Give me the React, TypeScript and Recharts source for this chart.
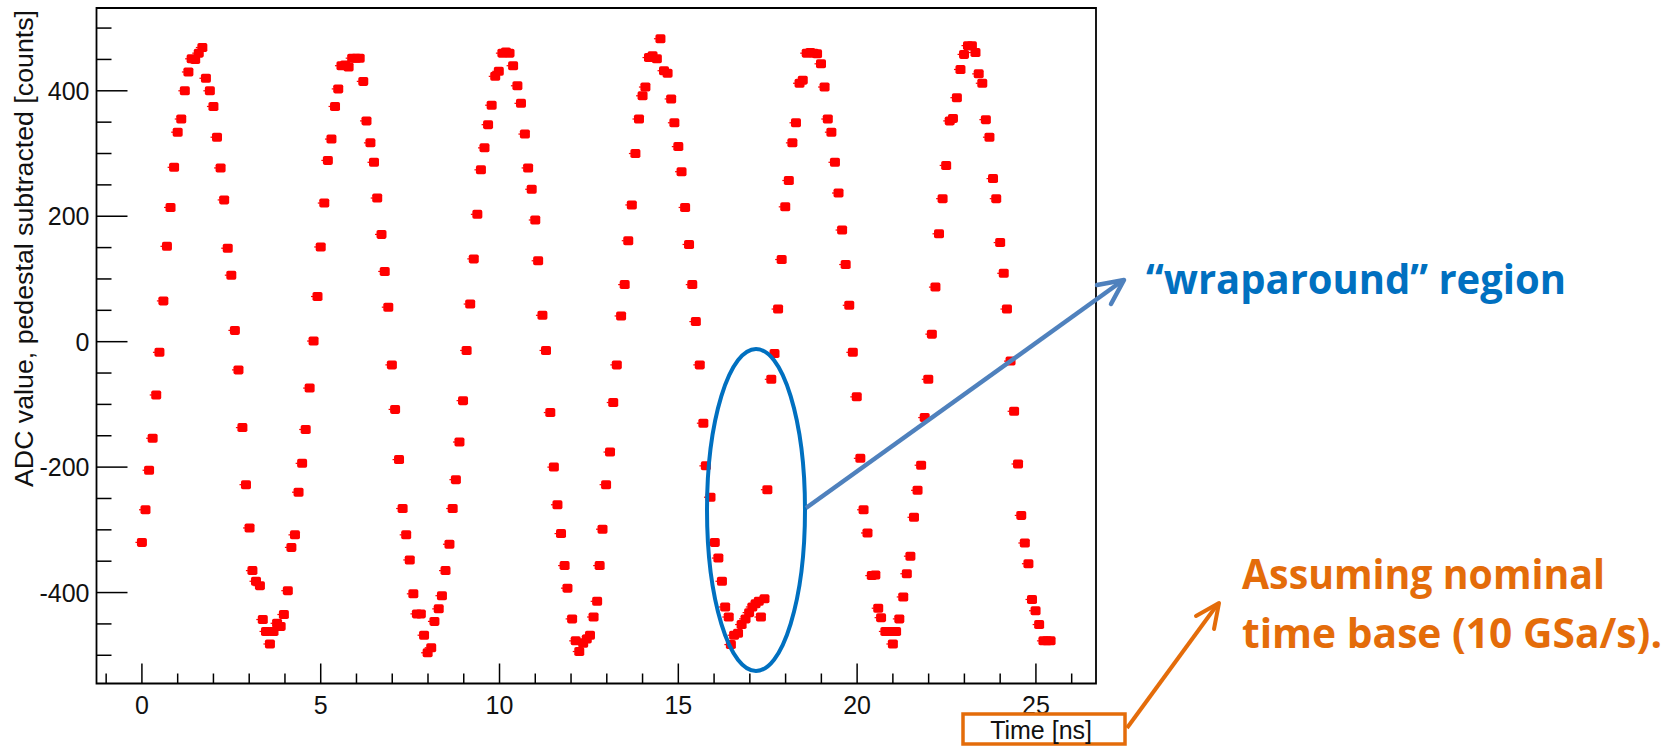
import { ReferenceArea, Scatter, ScatterChart, XAxis, YAxis } from 'recharts';

const timeNs = [
  0.0, 0.1, 0.2, 0.3, 0.4, 0.49, 0.6, 0.7, 0.8, 0.9, 1.0, 1.1, 1.2, 1.3, 1.39, 1.49, 1.59, 1.69,
  1.79, 1.9, 2.0, 2.1, 2.2, 2.3, 2.4, 2.5, 2.6, 2.7, 2.81, 2.91, 3.01, 3.09, 3.19, 3.3, 3.38, 3.47,
  3.58, 3.68, 3.78, 3.88, 3.97, 4.08, 4.18, 4.28, 4.38, 4.48, 4.58, 4.69,
  4.8, 4.91, 5.0, 5.1, 5.2, 5.3, 5.4, 5.49, 5.58, 5.68, 5.78, 5.88, 5.99, 6.09, 6.19, 6.28, 6.39,
  6.49, 6.58, 6.7, 6.79, 6.89, 6.99, 7.08, 7.19, 7.29, 7.39, 7.49, 7.59, 7.69, 7.8, 7.89, 7.99,
  8.09, 8.18, 8.3, 8.39, 8.49, 8.6, 8.69, 8.78, 8.88, 8.98,
  9.08, 9.18, 9.28, 9.38, 9.48, 9.58, 9.68, 9.78, 9.88, 9.98, 10.08, 10.18, 10.28, 10.38, 10.5,
  10.6, 10.71, 10.8, 10.9, 11.0, 11.08, 11.2, 11.3, 11.42, 11.52, 11.62, 11.72, 11.82, 11.9,
  12.03, 12.13, 12.23, 12.34, 12.44, 12.53, 12.63, 12.73, 12.8, 12.88, 12.98, 13.09, 13.18, 13.28,
  13.4, 13.5, 13.6, 13.7, 13.8, 13.9, 14.0, 14.08, 14.18, 14.28, 14.4, 14.5, 14.6, 14.7, 14.8,
  14.89, 15.0, 15.09, 15.19, 15.3, 15.39, 15.49, 15.6, 15.7, 15.77, 15.9, 16.02, 16.12, 16.22,
  16.31, 16.41, 16.47, 16.56, 16.67, 16.77, 16.88, 16.98, 17.07, 17.16, 17.25, 17.31, 17.41,
  17.49, 17.6, 17.69, 17.79, 17.89, 17.99, 18.09, 18.19, 18.29, 18.39, 18.48, 18.59, 18.69, 18.79,
  18.88, 18.99, 19.09, 19.18, 19.28, 19.38, 19.48, 19.58, 19.68, 19.78, 19.88, 19.99, 20.09,
  20.18, 20.29, 20.41, 20.51, 20.59, 20.67, 20.79, 20.9, 21.0, 21.09, 21.18, 21.29, 21.39, 21.49,
  21.59, 21.69, 21.79, 21.89, 21.99, 22.09, 22.19, 22.29, 22.39, 22.49, 22.59, 22.68, 22.79,
  22.89, 22.99, 23.1, 23.21, 23.31, 23.4, 23.5, 23.6, 23.7, 23.8, 23.89, 24.0, 24.1, 24.19, 24.29,
  24.39, 24.5, 24.59, 24.69, 24.79, 24.89, 24.99, 25.09, 25.21, 25.31, 25.41,
];

const adcCounts = [
  -320, -268, -205, -154, -85, -17, 65, 152, 214, 278, 334, 355, 400, 430, 451, 450, 460, 469,
  420, 400, 375, 326, 277, 226, 149, 106, 18, -45, -137, -228, -297, -365, -382, -389, -443, -462,
  -482, -462, -449, -454, -435, -397, -328, -308, -240, -194, -140, -74,
  1, 72, 151, 221, 289, 323, 375, 403, 440, 441, 438, 452, 452, 452, 415, 352, 317,
  286, 229, 171, 112, 55, -37, -108, -188, -266, -308, -348, -402, -434, -434, -468, -496,
  -488, -446, -426, -405, -365, -323, -266, -220, -160, -94,
  -14, 60, 132, 203, 274, 309, 346, 377, 423, 431, 460, 462, 460, 440, 408,
  380, 331, 277, 243, 194, 129, 42, -14, -113, -200, -260, -306, -357, -393,
  -442, -477, -494, -481, -474, -468, -439, -414, -357, -299, -228, -176, -97, -37,
  41, 91, 161, 218, 300, 355, 392, 406, 453, 456, 451, 483, 432, 428, 387,
  349, 311, 271, 214, 155, 91, 32, -37, -130, -198, -248, -320, -345, -382,
  -423, -439, -483, -468, -465, -451, -442, -432, -423, -418, -414, -439, -410,
  -236, -60, -19, 52, 131, 215, 257, 317, 349, 412, 417, 460, 461, 460,
  459, 443, 406, 355, 334, 286, 237, 178, 123, 58, -17, -88, -186,
  -268, -305, -373, -372, -425, -440, -462, -462, -482, -462, -442, -407, -370, -342,
  -280, -237, -197, -121, -60, 12, 87, 172, 228, 281, 352, 356, 389,
  434, 458, 472, 472, 461, 427, 412, 354, 326, 260, 228, 158, 109, 52, -31,
  -111, -195, -277, -321, -354, -411, -429, -451, -477, -477, -477,
];

const xMajorTicks = [0, 5, 10, 15, 20, 25];
const xMinorTicks = [-1, 0, 1, 2, 3, 4, 5, 6, 7, 8, 9, 10, 11, 12, 13, 14, 15, 16, 17, 18, 19, 20, 21, 22, 23, 24, 25, 26];
const yMajorTicks = [-400, -200, 0, 200, 400];
const yMinorTicks = [-500, -450, -400, -350, -300, -250, -200, -150, -100, -50, 0, 50, 100, 150, 200, 250, 300, 350, 400, 450, 500];

const X_DOMAIN: [number, number] = [-1.27, 26.68];
const Y_DOMAIN: [number, number] = [-545, 532];

const points = timeNs.map((t, i) => ({ t, v: adcCounts[i] }));

const AXIS_FONT = '"Liberation Sans", Arial, sans-serif';
const NOTE_FONT = '"Open Sans", "Noto Sans", sans-serif';
const RED = '#ff0000';
const BLUE = '#0070c0';
const STEEL = '#4f81bd';
const ORANGE = '#e46c0a';

// root-style full marker, a slightly chunky blob
function Marker({ cx, cy }: { cx?: number; cy?: number }) {
  if (cx == null || cy == null) return null;
  return (
    <g>
      <rect x={cx - 5} y={cy - 4.5} width={10} height={9} rx={1.8} fill={RED} />
      <rect x={cx - 6.5} y={cy - 0.6} width={2} height={1.2} fill={RED} />
    </g>
  );
}

function XTick({ x, y, payload }: any) {
  const value = Number(payload.value);
  const major = xMajorTicks.includes(value);
  return (
    <g>
      <line x1={x} y1={y} x2={x} y2={y - (major ? 20 : 10)} stroke="#000" strokeWidth={1.5} />
      {major ? (
        <text x={x} y={y + 30} textAnchor="middle" fontFamily={AXIS_FONT} fontSize={25} fill="#111">
          {value}
        </text>
      ) : null}
    </g>
  );
}

function YTick({ x, y, payload }: any) {
  const value = Number(payload.value);
  const major = yMajorTicks.includes(value);
  return (
    <g>
      <line x1={x} y1={y} x2={x + (major ? 31 : 15)} y2={y} stroke="#000" strokeWidth={1.5} />
      {major ? (
        <text x={x - 7} y={y} dy="0.36em" textAnchor="end" fontFamily={AXIS_FONT} fontSize={25} fill="#111">
          {value}
        </text>
      ) : null}
    </g>
  );
}

export default function App() {
  return (
    <div style={{ position: 'absolute', left: 0, top: 0, width: 1676, height: 746, background: '#fff' }}>
      <ScatterChart width={1676} height={746} margin={{ top: 8, right: 580, bottom: 0, left: 0 }}>
        <XAxis
          type="number"
          dataKey="t"
          domain={X_DOMAIN}
          allowDataOverflow
          ticks={xMinorTicks}
          interval={0}
          tickSize={0}
          tickMargin={0}
          height={62.5}
          axisLine={false}
          tickLine={false}
          tick={XTick}
        />
        <YAxis
          type="number"
          dataKey="v"
          domain={Y_DOMAIN}
          allowDataOverflow
          ticks={yMinorTicks}
          interval={0}
          tickSize={0}
          tickMargin={0}
          width={96.5}
          axisLine={false}
          tickLine={false}
          tick={YTick}
        />
        <ReferenceArea
          x1={X_DOMAIN[0]}
          x2={X_DOMAIN[1]}
          y1={Y_DOMAIN[0]}
          y2={Y_DOMAIN[1]}
          fill="none"
          fillOpacity={0}
          stroke="#000"
          strokeWidth={1.8}
          ifOverflow="visible"
        />
        <Scatter data={points} dataKey="v" shape={Marker} isAnimationActive={false} />
      </ScatterChart>

      <svg
        width={1676}
        height={746}
        style={{ position: 'absolute', left: 0, top: 0, pointerEvents: 'none' }}
      >
        <text
          transform="translate(33,10) rotate(-90)"
          textAnchor="end"
          fontFamily={AXIS_FONT}
          fontSize={25}
          fill="#111"
          textLength={477}
          lengthAdjust="spacingAndGlyphs"
        >
          ADC value, pedestal subtracted [counts]
        </text>

        <rect x={963} y={714} width={162} height={30} fill="none" stroke={ORANGE} strokeWidth={3.5} />
        <text x={1092} y={739} textAnchor="end" fontFamily={AXIS_FONT} fontSize={25} fill="#111">
          Time [ns]
        </text>

        <ellipse cx={756} cy={510} rx={49} ry={161} fill="none" stroke={BLUE} strokeWidth={4} />
        <line x1={806} y1={508} x2={1122} y2={281} stroke={STEEL} strokeWidth={4.5} />
        <polyline
          points="1097,285 1124,280 1111,304"
          fill="none"
          stroke={STEEL}
          strokeWidth={4.5}
          strokeLinecap="round"
          strokeLinejoin="round"
        />
        <text
          x={1146}
          y={294}
          fontFamily={NOTE_FONT}
          fontWeight={700}
          fontSize={41}
          fill={BLUE}
          textLength={420}
          lengthAdjust="spacingAndGlyphs"
        >
          “wraparound” region
        </text>

        <line x1={1127} y1={728} x2={1217} y2={605} stroke={ORANGE} strokeWidth={4} />
        <polyline
          points="1196,616 1219,603 1214,629"
          fill="none"
          stroke={ORANGE}
          strokeWidth={4}
          strokeLinecap="round"
          strokeLinejoin="round"
        />
        <text
          x={1242}
          y={589}
          fontFamily={NOTE_FONT}
          fontWeight={700}
          fontSize={41}
          fill={ORANGE}
          textLength={363}
          lengthAdjust="spacingAndGlyphs"
        >
          Assuming nominal
        </text>
        <text
          x={1242}
          y={648}
          fontFamily={NOTE_FONT}
          fontWeight={700}
          fontSize={41}
          fill={ORANGE}
          textLength={420}
          lengthAdjust="spacingAndGlyphs"
        >
          time base (10 GSa/s).
        </text>
      </svg>
    </div>
  );
}
